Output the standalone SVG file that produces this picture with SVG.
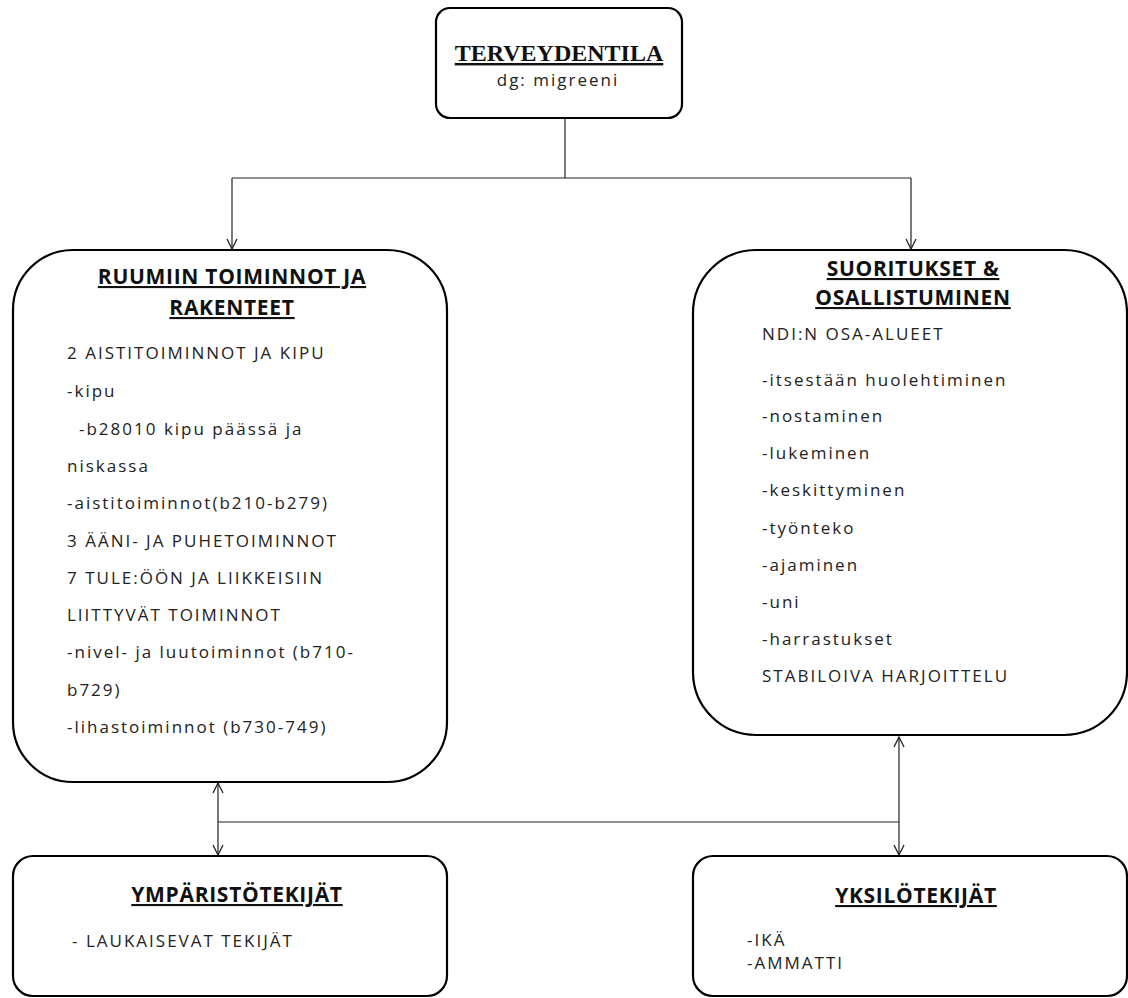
<svg xmlns="http://www.w3.org/2000/svg" width="1128" height="998" viewBox="0 0 1128 998">
<style>
.box{fill:#fff;stroke:#000;stroke-width:2.2}
.conn{fill:none;stroke:#222;stroke-width:1.2}
.h{font-family:"Open Sans","Liberation Sans",sans-serif;font-weight:bold;font-size:21px;letter-spacing:0.7px;text-decoration:underline;fill:#111;text-anchor:middle}
.ht{font-family:"Liberation Serif",serif;font-weight:bold;font-size:24px;text-decoration:underline;fill:#111;text-anchor:middle}
.t{font-family:"Open Sans","Liberation Sans",sans-serif;font-size:17px;letter-spacing:2px;fill:#222}
</style>
<defs>
<marker id="ah" viewBox="0 0 12 12" refX="11" refY="6" markerWidth="12" markerHeight="12" markerUnits="userSpaceOnUse" orient="auto-start-reverse">
<path d="M1,1 L11,6 L1,11" fill="none" stroke="#222" stroke-width="1.3"/>
</marker>
</defs>
<g id="connectors">
<path class="conn" d="M565,118 V178"/>
<path class="conn" d="M232,178 H911"/>
<path class="conn" d="M232,178 V249" marker-end="url(#ah)"/>
<path class="conn" d="M911,178 V249" marker-end="url(#ah)"/>
<path class="conn" d="M218,783 V855" marker-start="url(#ah)" marker-end="url(#ah)"/>
<path class="conn" d="M218,822 H899"/>
<path class="conn" d="M899,737 V855" marker-start="url(#ah)" marker-end="url(#ah)"/>
</g>
<g id="terveydentila">
<rect class="box" x="436" y="8" width="246" height="110" rx="14"/>
<text class="ht" x="559" y="61">TERVEYDENTILA</text>
<text class="t" x="558" y="86" text-anchor="middle">dg: migreeni</text>
</g>
<g id="ruumiin">
<rect class="box" x="13" y="250" width="434" height="532" rx="60"/>
<text class="h" x="232" y="284">RUUMIIN TOIMINNOT JA</text>
<text class="h" x="232" y="315">RAKENTEET</text>
<text class="t" x="67" y="359">2 AISTITOIMINNOT JA KIPU</text>
<text class="t" x="67" y="397">-kipu</text>
<text class="t" x="79" y="435">-b28010 kipu päässä ja</text>
<text class="t" x="67" y="472">niskassa</text>
<text class="t" x="67" y="509">-aistitoiminnot(b210-b279)</text>
<text class="t" x="67" y="547">3 ÄÄNI- JA PUHETOIMINNOT</text>
<text class="t" x="67" y="584">7 TULE:ÖÖN JA LIIKKEISIIN</text>
<text class="t" x="67" y="621">LIITTYVÄT TOIMINNOT</text>
<text class="t" x="67" y="658">-nivel- ja luutoiminnot  (b710-</text>
<text class="t" x="67" y="696">b729)</text>
<text class="t" x="67" y="733">-lihastoiminnot  (b730-749)</text>
</g>
<g id="suoritukset">
<rect class="box" x="693" y="250" width="434" height="485" rx="63"/>
<text class="h" x="913" y="276">SUORITUKSET &amp;</text>
<text class="h" x="913" y="305">OSALLISTUMINEN</text>
<text class="t" x="762" y="340">NDI:N OSA-ALUEET</text>
<text class="t" x="762" y="386">-itsestään  huolehtiminen</text>
<text class="t" x="762" y="422">-nostaminen</text>
<text class="t" x="762" y="459">-lukeminen</text>
<text class="t" x="762" y="496">-keskittyminen</text>
<text class="t" x="762" y="534">-työnteko</text>
<text class="t" x="762" y="571">-ajaminen</text>
<text class="t" x="762" y="608">-uni</text>
<text class="t" x="762" y="645">-harrastukset</text>
<text class="t" x="762" y="682">STABILOIVA HARJOITTELU</text>
</g>
<g id="ymparisto">
<rect class="box" x="13" y="856" width="434" height="140" rx="20"/>
<text class="h" x="237" y="902">YMPÄRISTÖTEKIJÄT</text>
<text class="t" x="72" y="947">- LAUKAISEVAT TEKIJÄT</text>
</g>
<g id="yksilo">
<rect class="box" x="693" y="856" width="434" height="140" rx="20"/>
<text class="h" x="916" y="903">YKSILÖTEKIJÄT</text>
<text class="t" x="747" y="946">-IKÄ</text>
<text class="t" x="747" y="969">-AMMATTI</text>
</g>
</svg>
